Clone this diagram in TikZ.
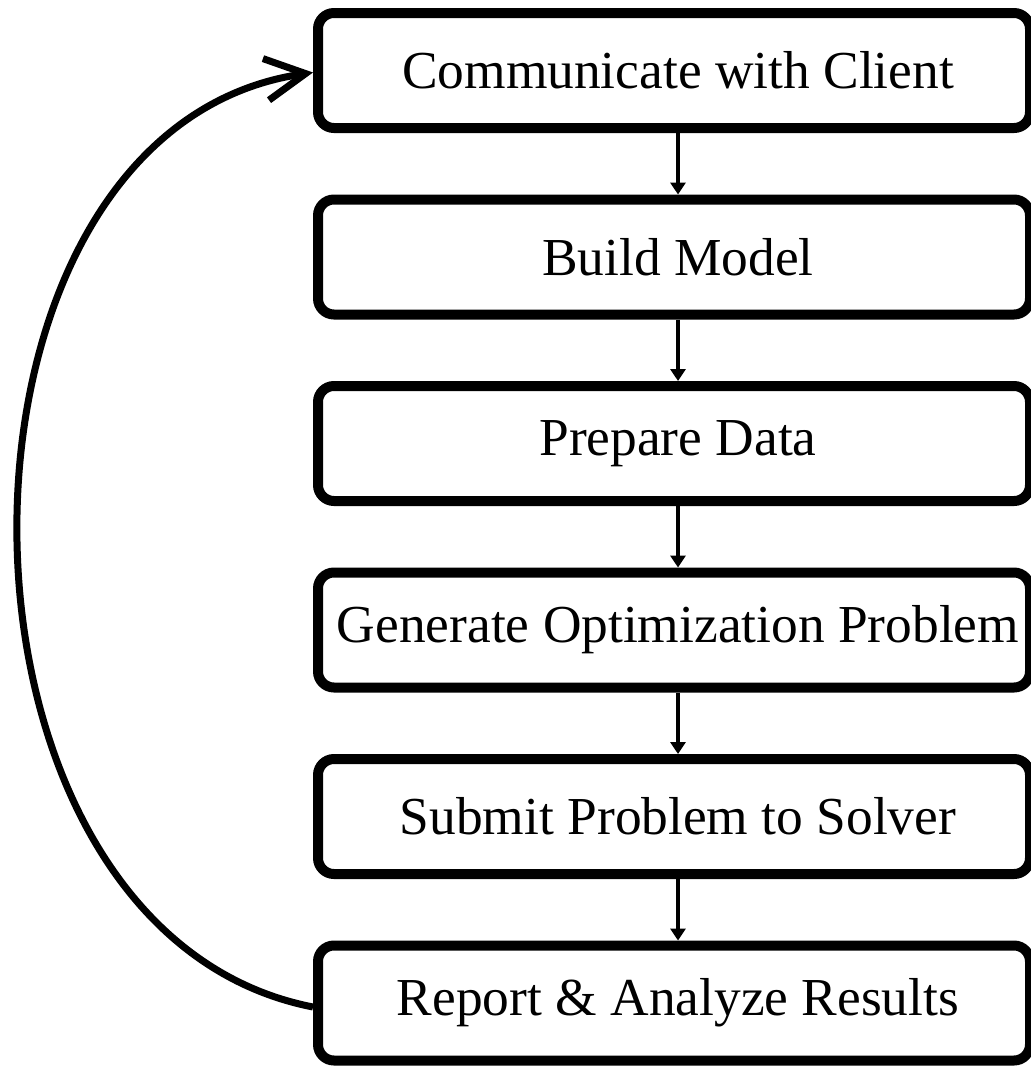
\documentclass[tikz,border=0pt]{standalone}
\usepackage{fontspec}
\setmainfont{Liberation Serif}
\usetikzlibrary{arrows.meta}
\begin{document}
\begin{tikzpicture}[x=0.5pt,y=-0.5pt,
  stepbox/.style={draw=black,line width=5pt,rounded corners=8pt,fill=white,
    minimum width=356pt,minimum height=57.5pt,inner sep=0pt,
    font=\fontsize{26.7}{32}\selectfont},
  flow/.style={line width=2pt,-{Triangle[length=6pt,width=7.5pt]}},
  loop/.style={line width=3.5pt,-{Straight Barb[length=20pt,width=21pt,line width=3.5pt]}}]
\useasboundingbox (0,0) rectangle (1031,1066);
\node[stepbox] (b1) at (674,70.5) {\hspace*{4pt}Communicate with Client};
\node[stepbox] (b2) at (674,257) {\hspace*{4pt}Build Model};
\node[stepbox] (b3) at (674,443.5) {\hspace*{4pt}Prepare Data};
\node[stepbox] (b4) at (674,630) {\hspace*{4pt}Generate Optimization Problem};
\node[stepbox] (b5) at (674,816.5) {\hspace*{4pt}Submit Problem to Solver};
\node[stepbox] (b6) at (674,1003) {\hspace*{4pt}Report \& Analyze Results};
\foreach \a/\b in {b1/b2,b2/b3,b3/b4,b4/b5,b5/b6}
  \draw[flow] ([xshift=2pt]\a.south) -- ([xshift=2pt]\b.north);
\draw[loop] ([yshift=-2pt]b6.west) .. controls (-80,930) and (-80,130) .. ([yshift=-1pt]b1.west);
\end{tikzpicture}
\end{document}
